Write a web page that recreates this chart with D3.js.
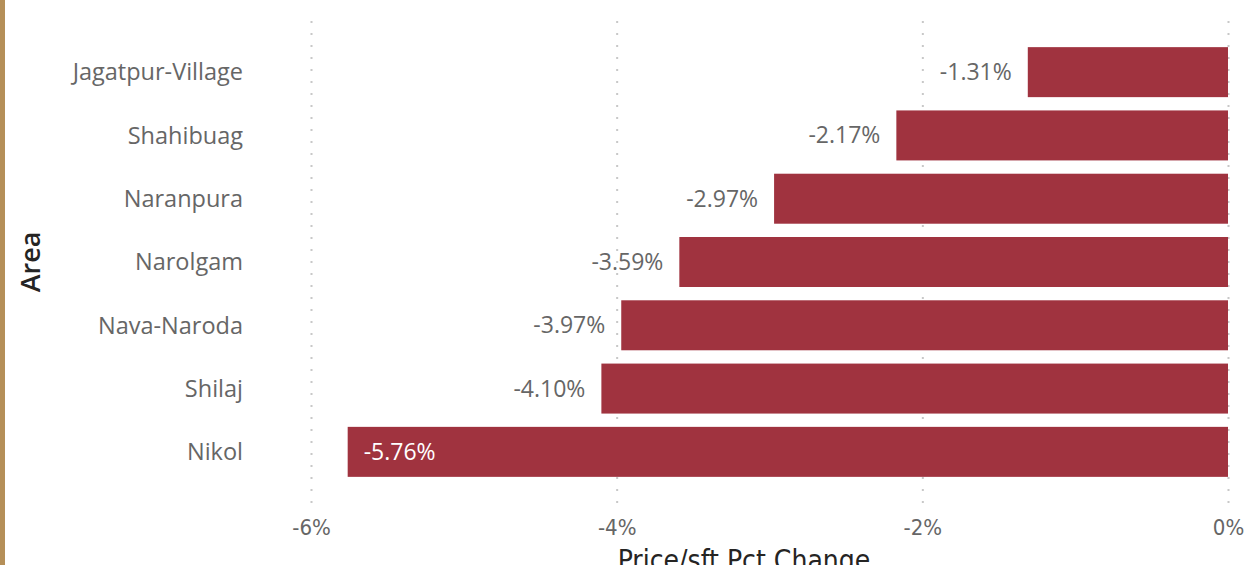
<!DOCTYPE html>
<html><head><meta charset="utf-8">
<script src="https://cdn.jsdelivr.net/npm/d3@7"></script>
<style>
html,body{margin:0;padding:0;background:#fff;overflow:hidden}
</style></head>
<body>
<svg id="chart" width="1249" height="565"></svg>
<script>
const areas = ["Jagatpur-Village","Shahibuag","Naranpura","Narolgam","Nava-Naroda","Shilaj","Nikol"];
const pctChange = [-1.31,-2.17,-2.97,-3.59,-3.97,-4.10,-5.76];
const xTicks = [-6,-4,-2,0];

const svg = d3.select("#chart");
const W = 1249, H = 565;
const plot = {left:311, right:1228, top:40.5, bottom:483.5};

svg.append("rect").attr("x",0).attr("y",0).attr("width",5).attr("height",H).attr("fill","#b58f58");

const x = d3.scaleLinear().domain([-6,0]).range([plot.left, plot.right]);
const y = d3.scaleBand().domain(areas).range([plot.top, plot.bottom]).paddingInner(0.21).paddingOuter(0.105);

// gridlines (dotted)
svg.append("g").selectAll("line").data(xTicks).join("line")
  .attr("x1",d=>x(d)+0.5).attr("x2",d=>x(d)+0.5)
  .attr("y1",21).attr("y2",507)
  .attr("stroke","#c8c8c8").attr("stroke-width",2)
  .attr("stroke-dasharray","2,10");

const data = areas.map((a,i)=>({area:a, v:pctChange[i]}));

svg.append("g").selectAll("rect").data(data).join("rect")
  .attr("x",d=>x(d.v)).attr("width",d=>x(0)-x(d.v))
  .attr("y",d=>y(d.area)).attr("height",y.bandwidth())
  .attr("fill","#a0333f");

// data labels
const fmt = d => d.toFixed(2) + "%";
svg.append("g").selectAll("text").data(data).join("text")
  .attr("x",d=> d.v < -5 ? x(d.v)+16 : x(d.v)-16)
  .attr("y",d=>y(d.area)+y.bandwidth()/2)
  .attr("dy","0.35em")
  .attr("text-anchor",d=> d.v < -5 ? "start" : "end")
  .attr("font-family","'Open Sans', sans-serif")
  .attr("font-size",23)
  .attr("fill",d=> d.v < -5 ? "#ffffff" : "#666666")
  .text(d=>fmt(d.v));

// y axis labels
const yAxis = d3.axisLeft(y).tickSize(0).tickPadding(0);
const gy = svg.append("g").attr("transform",`translate(243,0)`).call(yAxis);
gy.select(".domain").remove();
gy.selectAll("text").attr("font-family","'Open Sans', sans-serif").attr("font-size",23.5).attr("fill","#666666").attr("dy","0.35em");

// x axis labels
const xAxis = d3.axisBottom(x).tickValues(xTicks).tickSize(0).tickPadding(0).tickFormat(d=>d+"%");
const gx = svg.append("g").attr("transform",`translate(0,535)`).call(xAxis);
gx.select(".domain").remove();
gx.selectAll("text").attr("font-family","'DejaVu Sans Condensed', 'Liberation Sans Narrow', sans-serif").attr("font-size",22).attr("fill","#666666").attr("dy","0");

// axis titles
svg.append("text").attr("x",744).attr("y",570).attr("text-anchor","middle")
  .attr("font-family","'DejaVu Sans Condensed', sans-serif").attr("font-size",28).attr("fill","#252423")
  .text("Price/sft Pct Change");
svg.append("text").attr("transform","translate(40,262) rotate(-90)").attr("text-anchor","middle")
  .attr("font-family","'Open Sans', sans-serif").attr("font-weight",600).attr("font-size",27).attr("fill","#252423")
  .text("Area");
</script>
</body></html>
